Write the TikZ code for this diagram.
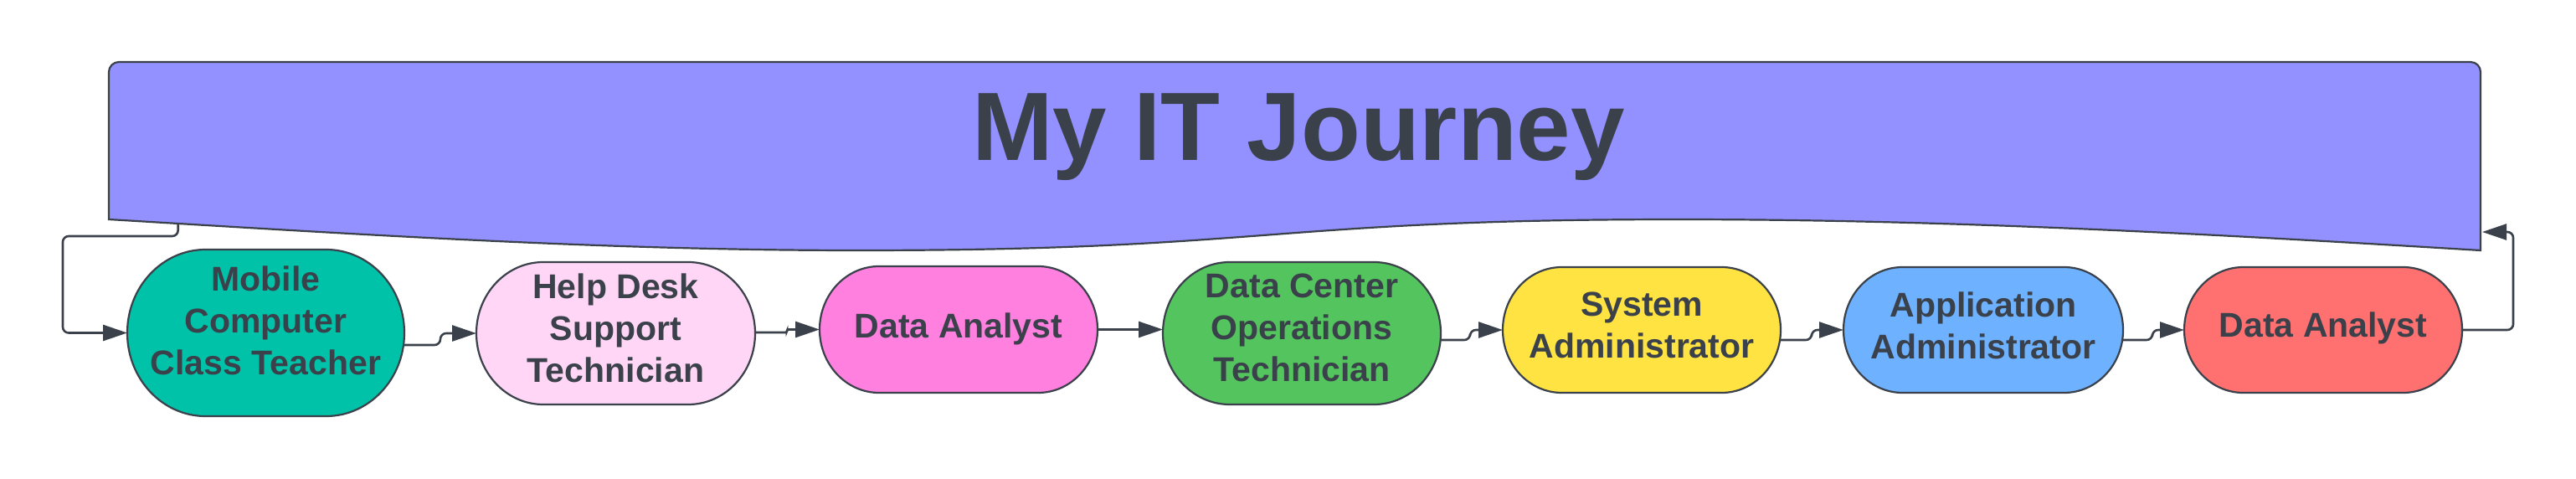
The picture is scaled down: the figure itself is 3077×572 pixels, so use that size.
\documentclass[tikz,border=0pt]{standalone}
\usepackage{fontspec}
\setmainfont{Liberation Sans}
\usetikzlibrary{arrows.meta}
\definecolor{ink}{HTML}{3A414A}
\definecolor{bannerfill}{HTML}{9391FF}
\definecolor{cteal}{HTML}{00C2A8}
\definecolor{clpink}{HTML}{FFD6F5}
\definecolor{cpink}{HTML}{FF80DF}
\definecolor{cgreen}{HTML}{54C45E}
\definecolor{cyellow}{HTML}{FFE342}
\definecolor{cblue}{HTML}{6DB1FF}
\definecolor{cred}{HTML}{FF7070}
\tikzset{
  outline/.style={draw=ink, line width=2.2pt},
  conn/.style={draw=ink, line width=2.6pt, rounded corners=7pt, -{Triangle[length=29pt,width=19pt]}},
  jobtext/.style={font=\fontsize{41}{50}\selectfont\bfseries, text=ink, align=center, inner sep=0pt},
  holder/.style={draw=none, inner sep=0pt, outer sep=0pt, rectangle}
}
\newcommand\stadiumnode[6]{% name, cx, cy, w, h, colour
  \node[holder, minimum width=#4pt, minimum height=#5pt] (#1) at (#2,#3) {};
  \pgfmathsetmacro\srx{0.47*#5}%
  \pgfmathsetmacro\sry{#5/2}%
  \pgfmathsetmacro\sxl{#2-#4/2+\srx}%
  \pgfmathsetmacro\sxr{#2+#4/2-\srx}%
  \pgfmathsetmacro\syt{#3-#5/2}%
  \pgfmathsetmacro\syb{#3+#5/2}%
  \path[outline, fill=#6] (\sxl,\syt) -- (\sxr,\syt)
    arc[start angle=-90, end angle=90, x radius=\srx, y radius=\sry]
    -- (\sxl,\syb)
    arc[start angle=90, end angle=270, x radius=\srx, y radius=\sry] -- cycle;
}
\begin{document}
\begin{tikzpicture}[x=1pt, y=-1pt]
\useasboundingbox (0,0) rectangle (3077,572);

% banner (document shape)
\path[outline, fill=bannerfill] (130,262) -- (130,86)
  arc[start angle=180, end angle=270, radius=12] -- (2951,74)
  arc[start angle=270, end angle=360, radius=12] -- (2963,299)
  .. controls (2650,280) and (2330,262) .. (2005,262)
  .. controls (1515,262) and (1515,299) .. (1025,299)
  .. controls (725,299) and (430,280) .. (130,262) -- cycle;
\node[font=\fontsize{116}{120}\selectfont\bfseries, text=ink, inner sep=0pt] (title) at (1551,164) {My IT Journey};
\coordinate (bannerL) at (212.7,266);
\coordinate (bannerR) at (2965,277);

% job boxes
\stadiumnode{n1}{317.5}{397.5}{331}{199}{cteal}
\stadiumnode{n2}{735.5}{398}{333}{170}{clpink}
\stadiumnode{n3}{1145}{393.5}{332}{151}{cpink}
\stadiumnode{n4}{1555}{398}{332}{170}{cgreen}
\stadiumnode{n5}{1961}{394}{332}{150}{cyellow}
\stadiumnode{n6}{2369}{394}{334}{150}{cblue}
\stadiumnode{n7}{2775}{394}{332}{150}{cred}

\node[jobtext] (t1) at (317.5,383) {Mobile\\Computer\\Class Teacher};
\node[jobtext] (t2) at (735.5,391.5) {Help Desk\\Support\\Technician};
\node[jobtext] (t3) at (1145,393) {Data Analyst};
\node[jobtext] (t4) at (1555,391.5) {Data Center\\Operations\\Technician};
\node[jobtext] (t5) at (1961,388.5) {System\\Administrator};
\node[jobtext] (t6) at (2369,388.5) {Application\\Administrator};
\node[jobtext] (t7) at (2775,392) {Data Analyst};

% connectors
\draw[conn] (bannerL) -- ++(0,16) -- ++(-137.7,0) |- (n1.west);
\draw[conn] ([yshift=-14.5pt]n1.east) -- ++(43,0) |- (n2.west);
\draw[conn, rounded corners=2pt] ([yshift=1pt]n2.east) -- ++(38,0) |- (n3.west);
\draw[conn] (n3.east) -- (n3.east -| n4.west);
\draw[conn] ([yshift=-8pt]n4.east) -- ++(35,0) |- (n5.west);
\draw[conn] ([yshift=-12pt]n5.east) -- ++(37,0) |- (n6.west);
\draw[conn] ([yshift=-12pt]n6.east) -- ++(35,0) |- (n7.west);
\draw[conn] (n7.east) -- ++(61,0) |- (bannerR);
\end{tikzpicture}
\end{document}
